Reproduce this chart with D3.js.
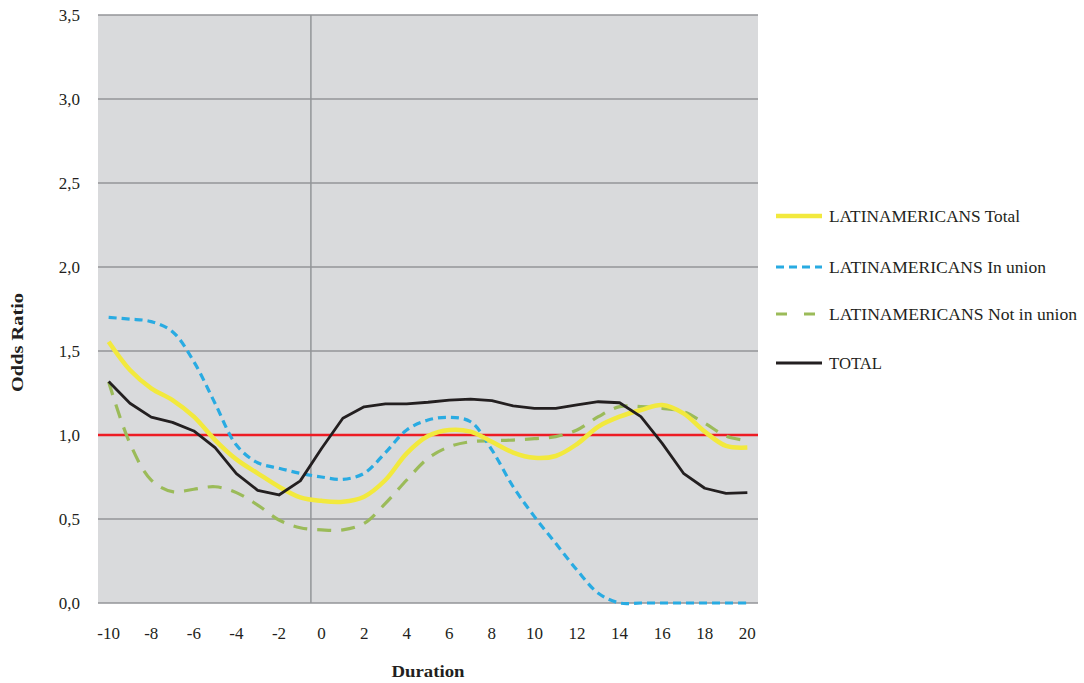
<!DOCTYPE html>
<html><head><meta charset="utf-8">
<script src="https://cdn.jsdelivr.net/npm/d3@7"></script>
<style>body{margin:0;background:#fff;}svg{display:block;}</style>
</head><body>
<script>
const durations = d3.range(-10, 21);
const latTotal = [1.555,1.387,1.278,1.208,1.109,0.970,0.855,0.772,0.692,0.629,0.608,0.603,0.633,0.732,0.891,0.994,1.030,1.020,0.960,0.895,0.864,0.875,0.946,1.050,1.109,1.149,1.179,1.129,1.020,0.935,0.925];
const latInUnion = [1.700,1.690,1.675,1.615,1.437,1.188,0.940,0.835,0.802,0.772,0.750,0.736,0.772,0.895,1.030,1.089,1.105,1.079,0.911,0.692,0.514,0.355,0.196,0.058,0,0,0,0,0,0,0];
const latNotUnion = [1.317,0.950,0.732,0.663,0.677,0.692,0.657,0.583,0.494,0.448,0.435,0.435,0.474,0.593,0.732,0.861,0.930,0.960,0.966,0.970,0.978,0.990,1.030,1.109,1.169,1.169,1.159,1.139,1.070,0.994,0.966];
const totalAll = [1.318,1.189,1.106,1.075,1.024,0.925,0.770,0.671,0.643,0.727,0.920,1.100,1.168,1.185,1.185,1.195,1.208,1.214,1.204,1.173,1.159,1.159,1.179,1.198,1.192,1.109,0.950,0.772,0.683,0.653,0.657];
const yTicks = [0,0.5,1,1.5,2,2.5,3,3.5];
const xTickLabels = d3.range(-10, 21, 2);
const seriesNames = ["LATINAMERICANS Total","LATINAMERICANS In union","LATINAMERICANS Not in union","TOTAL"];

const W = 1084, H = 683;
const L = 98, R = 758, T = 15, B = 603;
const FONT = "Liberation Serif, serif";
const svg = d3.select("body").append("svg").attr("width", W).attr("height", H);

const x = d3.scaleBand().domain(durations).range([L, R]).paddingInner(0).paddingOuter(0);
const xc = d => x(d) + x.bandwidth() / 2;
const y = d3.scaleLinear().domain([0, 3.5]).range([B, T]);

svg.append("rect").attr("x", L).attr("y", T).attr("width", R - L).attr("height", B - T).attr("fill", "#d9dadc");

svg.append("g").selectAll("line").data(yTicks).join("line")
  .attr("x1", L).attr("x2", R).attr("y1", d => y(d)).attr("y2", d => y(d))
  .attr("stroke", "#939598").attr("stroke-width", 1.5);

svg.append("line").attr("x1", x(0)).attr("x2", x(0)).attr("y1", T).attr("y2", B)
  .attr("stroke", "#939598").attr("stroke-width", 1.5);

const yAxis = d3.axisLeft(y).tickValues(yTicks).tickSize(0).tickPadding(18)
  .tickFormat(d => d3.format(".1f")(d).replace(".", ","));
const gy = svg.append("g").attr("transform", `translate(${L},0)`).call(yAxis);
gy.select(".domain").remove();
gy.selectAll("text").attr("font-family", FONT).attr("font-size", 17).attr("fill", "#231f20");

const xAxis = d3.axisBottom(x).tickValues(xTickLabels).tickSize(0).tickPadding(24);
const gx = svg.append("g").attr("transform", `translate(0,${B})`).call(xAxis);
gx.select(".domain").remove();
gx.selectAll("text").attr("font-family", FONT).attr("font-size", 17).attr("fill", "#231f20");

svg.append("line").attr("x1", L).attr("x2", R).attr("y1", y(1)).attr("y2", y(1))
  .attr("stroke", "#ed1c24").attr("stroke-width", 2.5);

const smooth = d3.line().x((d, i) => xc(durations[i])).y(d => y(d)).curve(d3.curveCatmullRom.alpha(0.5));
const straight = d3.line().x((d, i) => xc(durations[i])).y(d => y(d));

const styles = [
  {data: latTotal, color: "#f2e93d", width: 4.5, dash: null, gen: smooth},
  {data: latInUnion, color: "#29abe2", width: 3.2, dash: "8,5", gen: smooth},
  {data: latNotUnion, color: "#9bbb59", width: 3.2, dash: "14,10", gen: smooth},
  {data: totalAll, color: "#231f20", width: 2.8, dash: null, gen: straight}
];

[2, 1, 0, 3].forEach(i => {
  const s = styles[i];
  svg.append("path").attr("d", s.gen(s.data)).attr("fill", "none")
    .attr("stroke", s.color).attr("stroke-width", s.width)
    .attr("stroke-dasharray", s.dash).attr("stroke-linejoin", "round");
});

const legY = [216, 267, 314, 363];
const legW = [191, 217, 248, 53];
const leg = svg.append("g");
styles.forEach((s, i) => {
  leg.append("line").attr("x1", 776).attr("x2", 822).attr("y1", legY[i]).attr("y2", legY[i])
    .attr("stroke", s.color).attr("stroke-width", i === 0 ? 4.5 : 3.2)
    .attr("stroke-dasharray", i === 1 ? "8,5" : (i === 2 ? "11,17" : null));
  leg.append("text").attr("x", 829).attr("y", legY[i] + 6)
    .attr("font-family", FONT).attr("font-size", 17).attr("fill", "#231f20")
    .attr("textLength", legW[i]).attr("lengthAdjust", "spacingAndGlyphs")
    .text(seriesNames[i]);
});

svg.append("text").attr("x", 428).attr("y", 677).attr("text-anchor", "middle")
  .attr("font-family", FONT).attr("font-weight", "bold").attr("font-size", 17.5)
  .attr("textLength", 73).attr("lengthAdjust", "spacingAndGlyphs")
  .attr("fill", "#231f20").text("Duration");
svg.append("text").attr("transform", "translate(23,342.5) rotate(-90)").attr("text-anchor", "middle")
  .attr("font-family", FONT).attr("font-weight", "bold").attr("font-size", 16.5)
  .attr("textLength", 99).attr("lengthAdjust", "spacingAndGlyphs")
  .attr("fill", "#231f20").text("Odds Ratio");
</script>
</body></html>
